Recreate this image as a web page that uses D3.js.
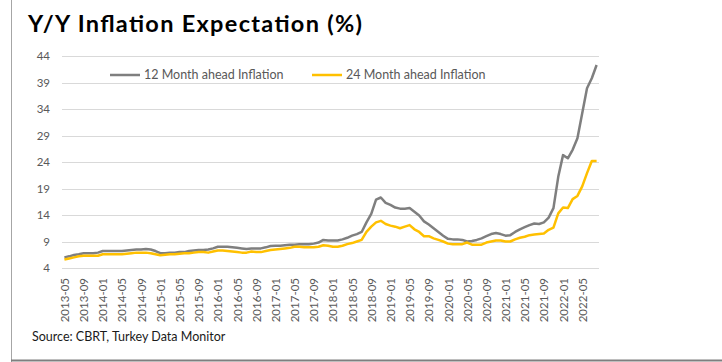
<!DOCTYPE html>
<html>
<head>
<meta charset="utf-8">
<script src="https://cdn.jsdelivr.net/npm/d3@7"></script>
<style>
  body { margin: 0; background: #fff; }
  text { font-family: Lato, "Liberation Sans", sans-serif; }
</style>
</head>
<body>
<div id="chart"></div>
<script>
// months 2013-05 .. 2022-08
let months = d3.utcMonth.range(new Date(Date.UTC(2013, 4, 1)), new Date(Date.UTC(2022, 8, 1))).map(d3.utcFormat("%Y-%m"));

let ahead12 = [
	6.0, 6.2, 6.45, 6.6, 6.8, 6.8, 6.8, 6.9,
	7.2, 7.2, 7.2, 7.2, 7.2, 7.3, 7.4, 7.5, 7.5, 7.6, 7.5, 7.2,
	6.8, 6.8, 6.9, 6.9, 7.0, 7.0, 7.2, 7.3, 7.4, 7.4, 7.5, 7.7,
	8.0, 8.0, 8.0, 7.9, 7.8, 7.7, 7.6, 7.7, 7.7, 7.7, 7.9, 8.15,
	8.2, 8.2, 8.3, 8.4, 8.4, 8.5, 8.5, 8.5, 8.6, 8.8, 9.3, 9.2,
	9.2, 9.2, 9.4, 9.7, 10.1, 10.4, 10.8, 12.6, 14.2, 16.9, 17.3, 16.3,
	15.9, 15.4, 15.2, 15.2, 15.3, 14.6, 13.9, 12.8, 12.2, 11.5, 10.8, 10.1,
	9.5, 9.4, 9.4, 9.3, 9.0, 9.1, 9.3, 9.6, 10.0, 10.4, 10.6, 10.4,
	10.1, 10.2, 10.8, 11.3, 11.7, 12.1, 12.4, 12.3, 12.6, 13.5, 15.3, 21.2,
	25.3, 24.7, 26.3, 28.5, 33.2, 37.9, 39.8, 42.3
];

let ahead24 = [
	5.6, 5.8, 6.0, 6.2, 6.3, 6.3, 6.3, 6.3,
	6.6, 6.6, 6.6, 6.6, 6.6, 6.7, 6.8, 6.9, 6.9, 6.9, 6.8, 6.6,
	6.4, 6.5, 6.6, 6.6, 6.7, 6.8, 6.8, 6.9, 7.0, 7.0, 6.9, 7.1,
	7.3, 7.3, 7.2, 7.1, 7.0, 6.9, 6.9, 7.1, 7.0, 7.0, 7.2, 7.4,
	7.5, 7.6, 7.7, 7.8, 8.0, 8.0, 7.9, 7.9, 7.9, 8.0, 8.3, 8.2,
	8.0, 8.0, 8.2, 8.5, 8.7, 9.0, 9.3, 10.8, 11.8, 12.6, 12.9, 12.3,
	12.0, 11.8, 11.5, 11.8, 12.1, 11.3, 10.8, 10.0, 10.0, 9.6, 9.3, 9.0,
	8.6, 8.5, 8.5, 8.5, 8.8, 8.4, 8.4, 8.4, 8.8, 9.0, 9.2, 9.2,
	9.0, 9.0, 9.4, 9.7, 9.9, 10.2, 10.3, 10.4, 10.5, 11.2, 11.6, 14.3,
	15.4, 15.3, 17.0, 17.6, 19.4, 21.9, 24.2, 24.2
];

let yTicks = [4, 9, 14, 19, 24, 29, 34, 39, 44];
let xTicks = months.filter((m, i) => i % 4 === 0);

let seriesNames = ["12 Month ahead Inflation", "24 Month ahead Inflation"];
let seriesColors = ["#7f7f7f", "#ffc000"];

let width = 722;
let height = 362;
let plot = { left: 62, right: 599, top: 56, bottom: 268 };

let svg = d3.select("#chart")
	.append("svg")
	.attr("width", width)
	.attr("height", height);

// frame lines
svg.append("line")
	.attr("x1", 11.5).attr("x2", 11.5)
	.attr("y1", 0).attr("y2", height)
	.attr("stroke", "#a6a6a6");
svg.append("line")
	.attr("x1", 11).attr("x2", width)
	.attr("y1", 360.5).attr("y2", 360.5)
	.attr("stroke", "#7f7f7f")
	.attr("stroke-width", 2);

// title
svg.append("text")
	.attr("x", 28)
	.attr("y", 32)
	.attr("font-size", 23.5)
	.attr("font-weight", "bold")
	.attr("fill", "#000")
	.attr("textLength", 334)
	.attr("lengthAdjust", "spacing")
	.text("Y/Y Inflation Expectation (%)");

let xScale = d3.scalePoint()
	.domain(months)
	.range([plot.left, plot.right])
	.padding(0.5);

let yScale = d3.scaleLinear()
	.domain([4, 44])
	.range([plot.bottom, plot.top]);

// gridlines
svg.append("g")
	.selectAll("line")
	.data(yTicks)
	.enter()
	.append("line")
	.attr("x1", plot.left)
	.attr("x2", plot.right)
	.attr("y1", d => Math.round(yScale(d)) + 0.5)
	.attr("y2", d => Math.round(yScale(d)) + 0.5)
	.attr("stroke", "#d9d9d9");

// y axis
let yAxis = svg.append("g")
	.attr("transform", `translate(${plot.left - 12},0)`)
	.call(d3.axisLeft(yScale).tickValues(yTicks).tickSize(0).tickPadding(0));
yAxis.select(".domain").remove();
yAxis.selectAll("text")
	.attr("font-size", 11.5)
	.attr("fill", "#595959")
	.style("font-family", "Lato, 'Liberation Sans', sans-serif");

// x axis
let xAxis = svg.append("g")
	.attr("transform", `translate(0,${plot.bottom})`)
	.call(d3.axisBottom(xScale).tickValues(xTicks).tickSize(0));
xAxis.select(".domain").remove();
xAxis.selectAll("text")
	.attr("transform", "rotate(-90)")
	.attr("x", -10)
	.attr("y", 0)
	.attr("dy", "0.35em")
	.style("text-anchor", "end")
	.attr("font-size", 11.5)
	.attr("fill", "#595959")
	.style("font-family", "Lato, 'Liberation Sans', sans-serif");

// lines
let line = d3.line()
	.x((d, i) => xScale(months[i]))
	.y(d => yScale(d));

[ahead12, ahead24].forEach((s, k) => {
	svg.append("path")
		.datum(s)
		.attr("fill", "none")
		.attr("stroke", seriesColors[k])
		.attr("stroke-width", 2.5)
		.attr("stroke-linejoin", "round")
		.attr("d", line);
});

// legend
let legendX = [110, 312];
seriesNames.forEach((name, k) => {
	svg.append("line")
		.attr("x1", legendX[k]).attr("x2", legendX[k] + 30)
		.attr("y1", 75).attr("y2", 75)
		.attr("stroke", seriesColors[k])
		.attr("stroke-width", 2.5);
	svg.append("text")
		.attr("x", legendX[k] + 34)
		.attr("y", 79)
		.attr("font-size", 12.5)
		.attr("fill", "#595959")
		.text(name);
});

// source
svg.append("text")
	.attr("x", 32)
	.attr("y", 341)
	.attr("font-size", 12.5)
	.attr("font-weight", "normal")
	.attr("fill", "#1a1a1a")
	.text("Source: CBRT, Turkey Data Monitor");
</script>
</body>
</html>
